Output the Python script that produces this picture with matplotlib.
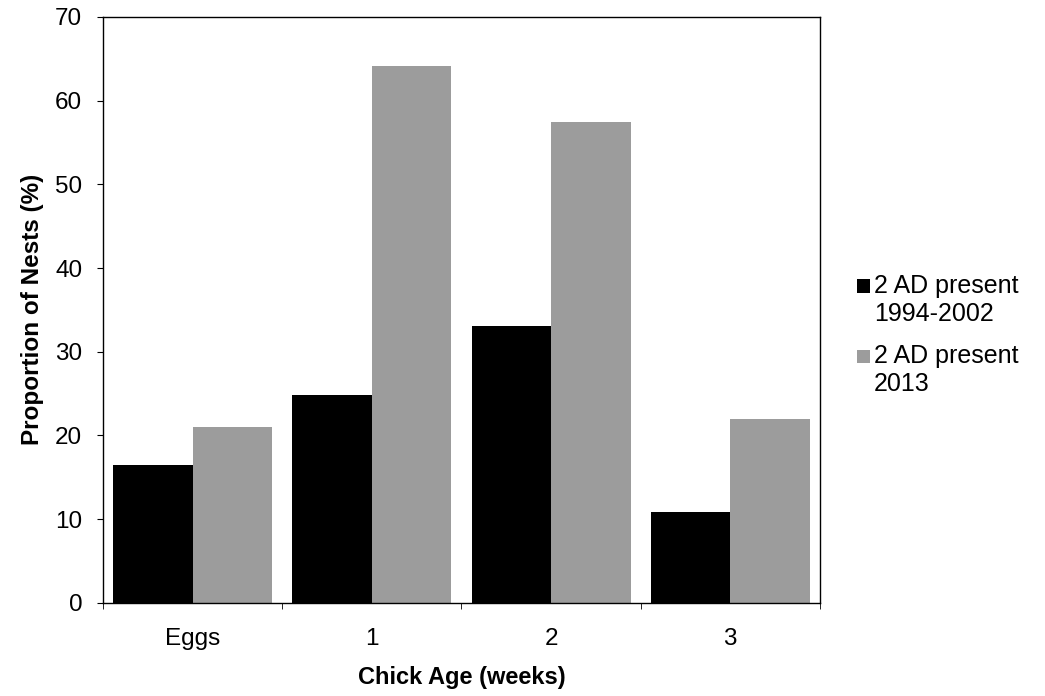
import numpy as np
import matplotlib
matplotlib.use("Agg")
import matplotlib.pyplot as plt
from matplotlib.patches import Rectangle
from matplotlib.container import BarContainer
from matplotlib.legend_handler import HandlerPatch

plt.rcParams['font.family'] = ['Liberation Sans', 'DejaVu Sans']

# Datos
categories = ['Eggs', '1', '2', '3']
nests_1994_2002 = [16.5, 24.8, 33.1, 10.9]
nests_2013 = [21.0, 64.2, 57.5, 21.9]
series_labels = ['2 AD present\n1994-2002', '2 AD present\n2013']

fig = plt.figure(figsize=(10.45, 6.96), dpi=100)
ax = fig.add_axes([0.0986, 0.134, 0.686, 0.8416])

x = np.arange(len(categories))
w = 0.444
ax.bar(x - w / 2, nests_1994_2002, width=w, color='black', label=series_labels[0])
ax.bar(x + w / 2, nests_2013, width=w, color='#9c9c9c', label=series_labels[1])

ax.set_xlim(-0.5, len(categories) - 0.5)
ax.set_ylim(0, 70)
ax.set_yticks(range(0, 71, 10))
ax.set_xticks(x)
ax.set_xticklabels(categories)
ax.set_xticks(np.arange(-0.5, len(categories), 1), minor=True)
ax.tick_params(axis='x', which='major', length=0, pad=18, labelsize=17.5)
ax.tick_params(axis='x', which='minor', length=4, direction='out')
ax.tick_params(axis='y', length=4, direction='out', labelsize=17.5, pad=11)

for s in ax.spines.values():
    s.set_linewidth(1.0)

ax.set_xlabel('Chick Age (weeks)', fontsize=17, fontweight='bold', labelpad=12)
ax.set_ylabel('Proportion of Nests (%)', fontsize=17.5, fontweight='bold', labelpad=8)


# cuadrado de la leyenda alineado con la primera línea del texto
def top_square(legend, orig_handle, xdescent, ydescent, width, height, fontsize):
    s = 0.55 * fontsize
    yc = -ydescent + height / 2 + 0.58 * fontsize
    return Rectangle((-xdescent, yc - s / 2), s, s)


def first_child(legend_handle, orig_handle):
    legend_handle.update_from(orig_handle[0])


ax.legend(loc='center left', bbox_to_anchor=(1.020, 0.457), frameon=False,
          fontsize=18, handlelength=0.55, handleheight=0.7, handletextpad=0.15,
          labelspacing=0.75,
          handler_map={BarContainer: HandlerPatch(patch_func=top_square,
                                                  update_func=first_child)})

fig.savefig('out.png', dpi=100)
